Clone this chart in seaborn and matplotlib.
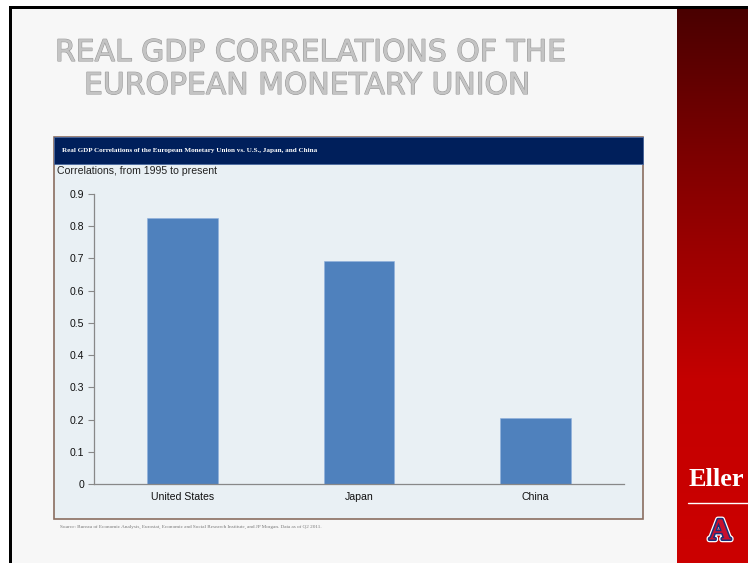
import numpy as np
import pandas as pd
import matplotlib
matplotlib.use("Agg")
import matplotlib.pyplot as plt
import seaborn as sns
from matplotlib.patches import Rectangle
from matplotlib.ticker import FixedLocator
from matplotlib.colors import LinearSegmentedColormap
import matplotlib.patheffects as pe

# ---- data ----
countries = ["United States", "Japan", "China"]
correlations = [0.827, 0.693, 0.205]
y_ticks = [0, 0.1, 0.2, 0.3, 0.4, 0.5, 0.6, 0.7, 0.8, 0.9]
y_tick_labels = ["0", "0.1", "0.2", "0.3", "0.4", "0.5", "0.6", "0.7", "0.8", "0.9"]

title_line1 = "REAL GDP CORRELATIONS OF THE"
title_line2 = "EUROPEAN MONETARY UNION"
header_text = "Real GDP Correlations of the European Monetary Union vs. U.S., Japan, and China"
subtitle = "Correlations, from 1995 to present"
source_text = ("Source: Bureau of Economic Analysis, Eurostat, Economic and Social Research Institute, "
               "and JP Morgan. Data as of Q2 2011.")

sns.set_theme(style="white")
plt.rcParams['font.family'] = ['Liberation Sans', 'DejaVu Sans']

W, H = 748, 563
fig = plt.figure(figsize=(W / 100, H / 100), dpi=100)
fig.patch.set_facecolor("white")

# background axes in pixel coordinates
bg = fig.add_axes([0, 0, 1, 1])
bg.axis("off")

# slide
bg.add_patch(Rectangle((9, 6), 677 - 9, H, facecolor="#f7f7f7", edgecolor="none"))
bg.add_patch(Rectangle((9, 6), 3, H, facecolor="black", edgecolor="none"))
bg.add_patch(Rectangle((9, 6), W, 3, facecolor="black", edgecolor="none"))
# red gradient bar
grad = np.linspace(0, 1, 256).reshape(-1, 1)
cmap = LinearSegmentedColormap.from_list("rg", ["#4a0000", "#8a0000", "#c40000", "#cc0000"])
bg.imshow(grad, cmap=cmap, extent=(677, W, H, 9), aspect="auto", zorder=1)
bg.set_xlim(0, W)
bg.set_ylim(H, 0)
bg.text(689, 479, "Eller", color="white", fontsize=19, fontweight="bold",
        family=["Liberation Serif"], va="center", ha="left", zorder=3)
bg.plot([688, W], [503, 503], color="white", lw=1, zorder=3)
bg.text(720, 532, "A", color="#c8102e", fontsize=22, fontweight="bold",
        family=["Liberation Serif"], va="center", ha="center", zorder=3,
        path_effects=[pe.Stroke(linewidth=4, foreground="white"),
                      pe.Stroke(linewidth=2.2, foreground="#1a2f7a"), pe.Normal()])

# slide title
title_fx = [pe.Stroke(linewidth=0.8, foreground="#9a9a9a"), pe.Normal()]
bg.text(55, 61, title_line1, color="#c4c4c4", fontsize=21.5, family=["DejaVu Sans"],
        va="baseline", ha="left", zorder=3, path_effects=title_fx)
bg.text(84, 94, title_line2, color="#c4c4c4", fontsize=21.5, family=["DejaVu Sans"],
        va="baseline", ha="left", zorder=3, path_effects=title_fx)

# chart panel
bg.add_patch(Rectangle((54, 137), 643 - 54, 519 - 137, facecolor="#e9f0f4",
                       edgecolor="#8a6e60", lw=1.2, zorder=2))
bg.add_patch(Rectangle((54, 137), 643 - 54, 164 - 137, facecolor="#001f5b",
                       edgecolor="#4a6aa0", lw=0.6, zorder=3))
bg.text(62, 150.5, header_text, color="white", fontsize=5.1, fontweight="bold",
        family=["Liberation Serif"], va="center", ha="left", zorder=4)
bg.text(57, 170.5, subtitle, color="#222222", fontsize=7.6, va="center", ha="left", zorder=4)
bg.text(60, 527, source_text, color="#777777", fontsize=3.7,
        family=["Liberation Serif"], va="center", ha="left", zorder=4)

# chart axes
x0, x1, y0, y1 = 94, 624, 484, 194
ax = fig.add_axes([x0 / W, (H - y0) / H, (x1 - x0) / W, (y0 - y1) / H])
ax.set_facecolor("none")
df = pd.DataFrame({"country": countries, "corr": correlations})
sns.barplot(data=df, x="country", y="corr", color="#4f81bd", saturation=1,
            width=0.4, edgecolor="#8fb0dc", linewidth=0.4, ax=ax)
ax.set_xlim(-0.5, 2.5)
ax.set_ylim(0, 0.9)
ax.set_yticks(y_ticks)
ax.set_yticklabels(y_tick_labels)
ax.set_xlabel("")
ax.set_ylabel("")
for s in ["top", "right"]:
    ax.spines[s].set_visible(False)
for s in ["left", "bottom"]:
    ax.spines[s].set_color("#888888")
    ax.spines[s].set_linewidth(0.9)
ax.xaxis.set_minor_locator(FixedLocator([-0.5, 0.5, 1.5, 2.5]))
ax.tick_params(axis="x", which="major", length=0, labelsize=7.6, pad=6, labelcolor="#111111")
ax.tick_params(axis="x", which="minor", length=4, width=0.8, color="#888888", direction="out")
ax.tick_params(axis="y", which="major", length=4, width=0.8, color="#888888", direction="out",
               labelsize=7.6, pad=3, labelcolor="#111111")
ax.tick_params(left=True, bottom=True)
ax.tick_params(axis="x", which="major", bottom=False)
ax.grid(False)

fig.savefig("out.png", dpi=100)
